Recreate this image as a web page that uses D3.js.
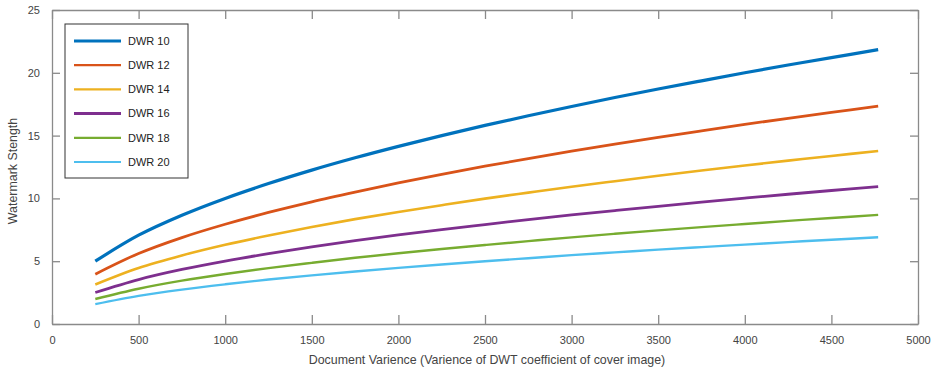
<!DOCTYPE html>
<html>
<head>
<meta charset="utf-8">
<script src="https://cdn.jsdelivr.net/npm/d3@7"></script>
<style>
  body { margin: 0; background: #fff; }
  svg { font-family: "Liberation Sans", Arial, sans-serif; }
</style>
</head>
<body>
<div id="chart"></div>
<script>
// document variance sample points
var variance = [250, 500, 750, 1000, 1250, 1500, 1750, 2000, 2250, 2500,
  2750, 3000, 3250, 3500, 3750, 4000, 4250, 4500, 4770];

var dwr10 = [5.0, 7.07, 8.66, 10.0, 11.18, 12.25, 13.23, 14.14, 15.0, 15.81,
  16.58, 17.32, 18.03, 18.71, 19.36, 20.0, 20.62, 21.21, 21.84];
var dwr12 = [3.97, 5.61, 6.88, 7.94, 8.88, 9.73, 10.5, 11.23, 11.91, 12.56,
  13.17, 13.76, 14.32, 14.86, 15.38, 15.89, 16.38, 16.85, 17.35];
var dwr14 = [3.15, 4.46, 5.46, 6.31, 7.05, 7.73, 8.35, 8.92, 9.46, 9.98,
  10.46, 10.93, 11.37, 11.8, 12.22, 12.62, 13.01, 13.38, 13.78];
var dwr16 = [2.51, 3.54, 4.34, 5.01, 5.6, 6.14, 6.63, 7.09, 7.52, 7.92,
  8.31, 8.68, 9.03, 9.37, 9.7, 10.02, 10.33, 10.63, 10.94];
var dwr18 = [1.99, 2.81, 3.45, 3.98, 4.45, 4.87, 5.27, 5.63, 5.97, 6.29,
  6.6, 6.9, 7.18, 7.45, 7.71, 7.96, 8.21, 8.44, 8.69];
var dwr20 = [1.58, 2.24, 2.74, 3.16, 3.54, 3.87, 4.18, 4.47, 4.74, 5.0,
  5.24, 5.48, 5.7, 5.92, 6.12, 6.32, 6.52, 6.71, 6.91];

var seriesNames = ["DWR 10", "DWR 12", "DWR 14", "DWR 16", "DWR 18", "DWR 20"];
var xTicks = [0, 500, 1000, 1500, 2000, 2500, 3000, 3500, 4000, 4500, 5000];
var yTicks = [0, 5, 10, 15, 20, 25];

var width = 937,
  height = 375;
var margin = { top: 10, right: 19, bottom: 51, left: 52 };
var innerW = width - margin.left - margin.right,
  innerH = height - margin.top - margin.bottom;

var colors = ["#0072BD", "#D95319", "#EDB120", "#7E2F8E", "#77AC30", "#4DBEEE"];
var widths = [3.2, 2.8, 2.6, 2.8, 2.4, 2.4];

var series = [dwr10, dwr12, dwr14, dwr16, dwr18, dwr20].map(function (vals, i) {
  return {
    name: seriesNames[i],
    values: vals.map(function (v, j) { return { x: variance[j], y: v }; })
  };
});

var svg = d3.select("#chart").append("svg")
  .attr("width", width)
  .attr("height", height);

var g = svg.append("g")
  .attr("transform", "translate(" + margin.left + "," + margin.top + ")");

var x = d3.scaleLinear().domain([0, 5000]).range([0, innerW]);
var y = d3.scaleLinear().domain([0, 25]).range([innerH, 0]);

var axisColor = "#8a8a8a";
var textColor = "#444";

// bottom and left axes with inward ticks
var xAxis = g.append("g")
  .attr("transform", "translate(0," + innerH + ")")
  .call(d3.axisBottom(x).tickValues(xTicks).tickFormat(d3.format("d"))
    .tickSizeInner(-9).tickSizeOuter(0).tickPadding(12));
var yAxis = g.append("g")
  .call(d3.axisLeft(y).tickValues(yTicks).tickFormat(d3.format("d"))
    .tickSizeInner(-8).tickSizeOuter(0).tickPadding(12));

// mirrored top and right axes, no labels
var xTop = g.append("g")
  .call(d3.axisTop(x).tickValues(xTicks).tickSizeInner(-9).tickSizeOuter(0).tickFormat(""));
var yRight = g.append("g")
  .attr("transform", "translate(" + innerW + ",0)")
  .call(d3.axisRight(y).tickValues(yTicks).tickSizeInner(-8).tickSizeOuter(0).tickFormat(""));

[xAxis, yAxis, xTop, yRight].forEach(function (a) {
  a.selectAll("path, line").attr("stroke", axisColor).attr("stroke-width", 1.3);
  a.selectAll("text")
    .attr("fill", textColor)
    .style("font-size", "11px");
});

var line = d3.line()
  .x(function (d) { return x(d.x); })
  .y(function (d) { return y(d.y); })
  .curve(d3.curveCatmullRom);

g.selectAll(".series")
  .data(series)
  .enter()
  .append("path")
  .attr("class", "series")
  .attr("fill", "none")
  .attr("stroke", function (d, i) { return colors[i]; })
  .attr("stroke-width", function (d, i) { return widths[i]; })
  .attr("d", function (d) { return line(d.values); });

// axis titles
svg.append("text")
  .attr("x", margin.left + innerW / 2 + 2)
  .attr("y", 364)
  .attr("text-anchor", "middle")
  .attr("fill", textColor)
  .style("font-size", "12.4px")
  .text("Document Varience (Varience of DWT coefficient of cover image)");

svg.append("text")
  .attr("transform", "translate(17,171) rotate(-90)")
  .attr("text-anchor", "middle")
  .attr("fill", textColor)
  .style("font-size", "12.4px")
  .text("Watermark Stength");

// legend
var legend = g.append("g")
  .attr("transform", "translate(13,14)");

legend.append("rect")
  .attr("width", 123)
  .attr("height", 154)
  .attr("fill", "#fff")
  .attr("stroke", "#333")
  .attr("stroke-width", 1);

var rows = legend.selectAll(".row")
  .data(series)
  .enter()
  .append("g")
  .attr("transform", function (d, i) { return "translate(0," + (17 + i * 24.2) + ")"; });

rows.append("line")
  .attr("x1", 9)
  .attr("x2", 56)
  .attr("stroke", function (d, i) { return colors[i]; })
  .attr("stroke-width", function (d, i) { return i == 0 || i == 3 ? 3 : 2.2; });

rows.append("text")
  .attr("x", 63)
  .attr("dy", "0.35em")
  .attr("fill", "#222")
  .style("font-size", "11px")
  .text(function (d) { return d.name; });
</script>
</body>
</html>
